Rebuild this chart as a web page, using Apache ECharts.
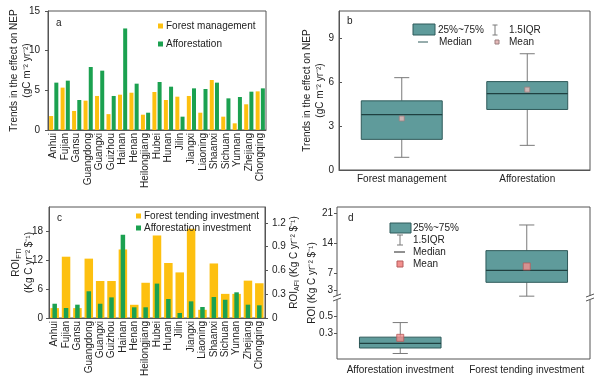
<!DOCTYPE html>
<html><head><meta charset="utf-8">
<script src="https://cdn.jsdelivr.net/npm/echarts@6/dist/echarts.min.js"></script>
<style>html,body{margin:0;padding:0;background:#fff}#c{width:600px;height:380px}</style>
</head><body><div id="c"></div>
<script>
// ---- data ----
const provinces = ['Anhui','Fujian','Gansu','Guangdong','Guangxi','Guizhou','Hainan','Henan','Heilongjiang','Hubei','Hunan','Jilin','Jiangxi','Liaoning','Shaanxi','Sichuan','Yunnan','Zhejiang','Chongqing'];
const nepForestMgmt   = [1.76,5.34,2.4,3.7,4.29,2.0,4.45,4.7,1.93,4.79,3.78,4.2,4.29,2.18,6.3,1.68,0.84,3.24,4.87];
const nepAfforestation = [5.97,6.22,3.78,7.94,7.48,4.29,12.8,5.84,2.18,6.05,5.46,1.68,5.25,5.17,5.97,3.99,4.16,4.83,5.25];
const roiForestTending = [2.05,12.7,2.05,12.3,7.67,7.67,14.2,2.74,7.3,17.1,11.4,9.45,18.5,1.7,11.3,5.0,5.0,7.74,7.2];
const roiAfforestation = [0.18,0.126,0.168,0.337,0.18,0.26,1.05,0.135,0.135,0.434,0.24,0.063,0.21,0.139,0.265,0.23,0.324,0.168,0.16];
const nepBoxCats = ['Forest management','Afforestation'];
const nepBoxStats = [[0.87,2.1,3.8,4.74,6.33],[1.69,4.15,5.24,6.06,7.97]]; // min, Q1, median, Q3, max
const nepBoxMeans = [3.53,5.51];
const roiBoxCats = ['Afforestation investment','Forest tending investment'];
const roiBoxStats = [[0.065,0.13,0.185,0.258,0.43],[1.56,4.8,7.6,12.2,18.2]];
const roiBoxMeans = [0.25,8.5];
const nepTicks = {max:10.9, interval:3};
const roiUpperTicks = [3,7,14,21];
const roiLowerTicks = [0.3,0.5];

// ---- styles ----
const FONT = 'Liberation Sans, Arial, sans-serif';
const TXT = '#222';
const ORANGE = '#FDC010';
const GREEN = '#1BA150';
const BOXFILL = '#5F9B9B';
const BOXLINE = '#2F5A5A';
const WHISK = '#7a7a7a';
const FRAME = '#555';

function boxRender(params, api){
  const x = api.value(0);
  const v = [1,2,3,4,5].map(i=>api.value(i));
  const pMin = api.coord([x,v[0]]), pQ1 = api.coord([x,v[1]]), pMed = api.coord([x,v[2]]),
        pQ3 = api.coord([x,v[3]]), pMax = api.coord([x,v[4]]);
  const cw = api.size([1,0])[0];
  const bw = cw*0.645, capw = cw*0.12, cx = pMed[0];
  const ws = {stroke:WHISK, lineWidth:1};
  return {type:'group', children:[
    {type:'line', shape:{x1:cx,y1:pMax[1],x2:cx,y2:pQ3[1]}, style:ws},
    {type:'line', shape:{x1:cx,y1:pQ1[1],x2:cx,y2:pMin[1]}, style:ws},
    {type:'line', shape:{x1:cx-capw/2,y1:pMax[1],x2:cx+capw/2,y2:pMax[1]}, style:ws},
    {type:'line', shape:{x1:cx-capw/2,y1:pMin[1],x2:cx+capw/2,y2:pMin[1]}, style:ws},
    {type:'rect', shape:{x:cx-bw/2,y:pQ3[1],width:bw,height:pQ1[1]-pQ3[1]}, style:{fill:BOXFILL,stroke:BOXLINE,lineWidth:1}},
    {type:'line', shape:{x1:cx-bw/2,y1:pMed[1],x2:cx+bw/2,y2:pMed[1]}, style:{stroke:'#1f4040',lineWidth:1.2}}
  ]};
}

const valAxisBase = {
  type:'value', splitLine:{show:false},
  axisLine:{show:true, lineStyle:{color:FRAME}},
  axisTick:{show:true, length:3, lineStyle:{color:FRAME}},
  axisLabel:{fontSize:10, color:TXT, fontFamily:FONT, margin:5},
  nameLocation:'middle', nameMoveOverlap:false,
  nameTextStyle:{fontSize:10, color:TXT, fontFamily:FONT, lineHeight:13}
};
const catRot = {
  type:'category', data:provinces,
  axisLine:{show:true, lineStyle:{color:FRAME}}, axisTick:{show:false},
  axisLabel:{rotate:90, fontSize:10, color:TXT, fontFamily:FONT, margin:3, interval:0}
};
const rich = {
  n:{fontSize:10, color:TXT, fontFamily:FONT, lineHeight:13},
  s:{fontSize:7, color:TXT, fontFamily:FONT, lineHeight:13, verticalAlign:'bottom', padding:[4,0,0,0]}
};

function t(x,y,text,extra){return Object.assign({type:'text', x, y, style:{text, fontSize:10, fill:TXT, fontFamily:FONT, verticalAlign:'middle'}}, extra||{});}

const option = {
  animation:false,
  textStyle:{fontFamily:FONT},
  grid:[
    {left:48, top:11, width:218, height:119, show:true, borderColor:FRAME, borderWidth:1},
    {left:339, top:11, width:251, height:159, show:true, borderColor:FRAME, borderWidth:1},
    {left:49, top:207, width:216, height:111, show:true, borderColor:FRAME, borderWidth:1},
    {left:337, top:207, width:253, height:152, show:true, borderColor:FRAME, borderWidth:1},
    {left:337, top:207, width:253, height:91},
    {left:337, top:298, width:253, height:61}
  ],
  xAxis:[
    Object.assign({}, catRot, {gridIndex:0}),
    {type:'category', gridIndex:1, data:nepBoxCats, axisLine:{lineStyle:{color:FRAME}}, axisTick:{show:false},
      axisLabel:{fontSize:10, color:TXT, fontFamily:FONT, margin:4, interval:0}},
    Object.assign({}, catRot, {gridIndex:2}),
    {type:'category', gridIndex:2, data:provinces, show:false},
    {type:'category', gridIndex:3, data:roiBoxCats, show:false},
    {type:'category', gridIndex:4, data:roiBoxCats, show:false},
    {type:'category', gridIndex:5, data:roiBoxCats, axisLine:{show:false}, axisTick:{show:false},
      axisLabel:{fontSize:10, color:TXT, fontFamily:FONT, margin:6, interval:0, hideOverlap:false}}
  ],
  yAxis:[
    Object.assign({}, valAxisBase, {gridIndex:0, min:0, max:15, interval:5,
      axisLabel:Object.assign({}, valAxisBase.axisLabel, {margin:8}),
      name:'Trends in the effect on NEP\n(gC m⁻² yr⁻²)', nameGap:14}),
    Object.assign({}, valAxisBase, {gridIndex:1, min:0, max:nepTicks.max, interval:nepTicks.interval,
      axisTick:{show:true, inside:true, length:3, lineStyle:{color:FRAME}},
      axisLabel:Object.assign({}, valAxisBase.axisLabel, {showMaxLabel:false}),
      name:'Trends in the effect on NEP\n(gC m⁻² yr⁻²)', nameGap:12}),
    Object.assign({}, valAxisBase, {gridIndex:2, min:0, max:23, interval:6,
      axisLabel:Object.assign({}, valAxisBase.axisLabel, {showMaxLabel:false, margin:6}),
      name:'{n|ROI}{s|FTI}\n{n|(Kg C yr⁻² $⁻¹)}', nameGap:13,
      nameTextStyle:{rich}}),
    Object.assign({}, valAxisBase, {gridIndex:2, position:'right', min:0, max:1.4, interval:0.3,
      axisLabel:Object.assign({}, valAxisBase.axisLabel, {showMaxLabel:false, margin:7}),
      name:'{n|ROI}{s|AFI}{n| (Kg C yr⁻² $⁻¹)}', nameGap:23,
      nameTextStyle:{rich}}),
    {type:'value', gridIndex:3, min:0, max:1, axisLine:{show:false}, axisTick:{show:false}, axisLabel:{show:false},
      splitLine:{show:false}, nameLocation:'middle', nameMoveOverlap:false, name:'ROI (Kg C yr⁻² $⁻¹)', nameGap:20,
      nameTextStyle:{fontSize:10, color:TXT, fontFamily:FONT}},
    Object.assign({}, valAxisBase, {gridIndex:4, min:1.13, max:22.4, axisLine:{show:false},
      axisTick:{show:true, length:3, customValues:roiUpperTicks, lineStyle:{color:FRAME}},
      axisLabel:Object.assign({}, valAxisBase.axisLabel, {customValues:roiUpperTicks, margin:4})}),
    Object.assign({}, valAxisBase, {gridIndex:5, min:0, max:0.72, axisLine:{show:false},
      axisTick:{show:true, length:3, customValues:roiLowerTicks, lineStyle:{color:FRAME}},
      axisLabel:Object.assign({}, valAxisBase.axisLabel, {customValues:roiLowerTicks, margin:4})})
  ],
  legend:[
    {data:['Forest management','Afforestation'], left:153, top:15, orient:'vertical', icon:'rect',
      itemWidth:5, itemHeight:5, itemGap:6, textStyle:{fontSize:10, color:TXT, fontFamily:FONT, lineHeight:12, padding:[0,0,0,-2]}},
    {data:['Forest tending investment','Afforestation investment'], left:131, top:205, orient:'vertical', icon:'rect',
      itemWidth:5, itemHeight:5, itemGap:0, textStyle:{fontSize:10, color:TXT, fontFamily:FONT, lineHeight:12, padding:[0,0,0,-2]}}
  ],
  series:[
    {name:'Forest management', type:'bar', xAxisIndex:0, yAxisIndex:0, data:nepForestMgmt, barWidth:4, barGap:'30%', itemStyle:{color:ORANGE}},
    {name:'Afforestation', type:'bar', xAxisIndex:0, yAxisIndex:0, data:nepAfforestation, barWidth:4, barGap:'30%', itemStyle:{color:GREEN}},
    {name:'nepBox', type:'custom', xAxisIndex:1, yAxisIndex:1, renderItem:boxRender,
      encode:{x:0, y:[1,2,3,4,5]}, data:nepBoxStats.map((s,i)=>[i].concat(s))},
    {name:'nepMean', type:'scatter', xAxisIndex:1, yAxisIndex:1, symbol:'rect', symbolSize:5,
      itemStyle:{color:'#E6B9B9', borderColor:'#9a7f7f', borderWidth:1}, data:nepBoxMeans.map((m,i)=>[i,m])},
    {name:'Forest tending investment', type:'bar', xAxisIndex:2, yAxisIndex:2, data:roiForestTending, barWidth:8.5, itemStyle:{color:ORANGE}},
    {name:'Afforestation investment', type:'bar', xAxisIndex:3, yAxisIndex:3, data:roiAfforestation, barWidth:4.5, itemStyle:{color:GREEN}},
    {name:'roiBoxUpper', type:'custom', xAxisIndex:5, yAxisIndex:5, renderItem:boxRender, clip:false,
      encode:{x:0, y:[1,2,3,4,5]}, data:[[1].concat(roiBoxStats[1])]},
    {name:'roiBoxLower', type:'custom', xAxisIndex:6, yAxisIndex:6, renderItem:boxRender, clip:false,
      encode:{x:0, y:[1,2,3,4,5]}, data:[[0].concat(roiBoxStats[0])]},
    {name:'roiMeanUpper', type:'scatter', xAxisIndex:5, yAxisIndex:5, symbol:'rect', symbolSize:7, z:5,
      itemStyle:{color:'#F2908E', borderColor:'#B55B5B', borderWidth:1}, data:[[1, roiBoxMeans[1]]]},
    {name:'roiMeanLower', type:'scatter', xAxisIndex:6, yAxisIndex:6, symbol:'rect', symbolSize:7, z:5,
      itemStyle:{color:'#F2908E', borderColor:'#B55B5B', borderWidth:1}, data:[[0, roiBoxMeans[0]]]}
  ],
  graphic:[
    t(56,23,'a'), t(347,21,'b'), t(57,218,'c'), t(348,218,'d'),
    // legend b
    {type:'rect', shape:{x:413,y:24,width:22,height:11}, style:{fill:BOXFILL, stroke:BOXLINE, lineWidth:1}},
    t(438,30,'25%~75%'),
    {type:'line', shape:{x1:495,y1:25,x2:495,y2:35}, style:{stroke:WHISK}},
    {type:'line', shape:{x1:492.5,y1:25,x2:497.5,y2:25}, style:{stroke:WHISK}},
    {type:'line', shape:{x1:492.5,y1:35,x2:497.5,y2:35}, style:{stroke:WHISK}},
    t(509,30,'1.5IQR'),
    {type:'line', shape:{x1:418,y1:42,x2:428,y2:42}, style:{stroke:BOXLINE}},
    t(439,42,'Median'),
    {type:'rect', shape:{x:495,y:40,width:4,height:4}, style:{fill:'#E6B9B9', stroke:'#9a7f7f', lineWidth:1}},
    t(509,42,'Mean'),
    // legend d
    {type:'rect', shape:{x:390,y:223,width:21,height:10}, style:{fill:BOXFILL, stroke:BOXLINE, lineWidth:1}},
    t(413,228,'25%~75%'),
    {type:'line', shape:{x1:400,y1:235,x2:400,y2:245}, style:{stroke:WHISK}},
    {type:'line', shape:{x1:397,y1:235,x2:403,y2:235}, style:{stroke:WHISK}},
    {type:'line', shape:{x1:397,y1:245,x2:403,y2:245}, style:{stroke:WHISK}},
    t(413,240,'1.5IQR'),
    {type:'line', shape:{x1:394,y1:252,x2:405,y2:252}, style:{stroke:'#222'}},
    t(413,252,'Median'),
    {type:'rect', shape:{x:397,y:261,width:6,height:6}, style:{fill:'#F2908E', stroke:'#B55B5B', lineWidth:1}},
    t(413,264,'Mean'),
    // axis break marks
    {type:'rect', shape:{x:334,y:296,width:6,height:4}, style:{fill:'#fff'}, z:100},
    {type:'line', shape:{x1:333,y1:297,x2:341,y2:294}, style:{stroke:FRAME}, z:101},
    {type:'line', shape:{x1:333,y1:301,x2:341,y2:298}, style:{stroke:FRAME}, z:101},
    {type:'rect', shape:{x:587,y:296,width:6,height:4}, style:{fill:'#fff'}, z:100},
    {type:'line', shape:{x1:586,y1:297,x2:594,y2:294}, style:{stroke:FRAME}, z:101},
    {type:'line', shape:{x1:586,y1:301,x2:594,y2:298}, style:{stroke:FRAME}, z:101}
  ]
};
const chart = echarts.init(document.getElementById('c'), null, {renderer:'canvas'});
chart.setOption(option);
</script></body></html>
